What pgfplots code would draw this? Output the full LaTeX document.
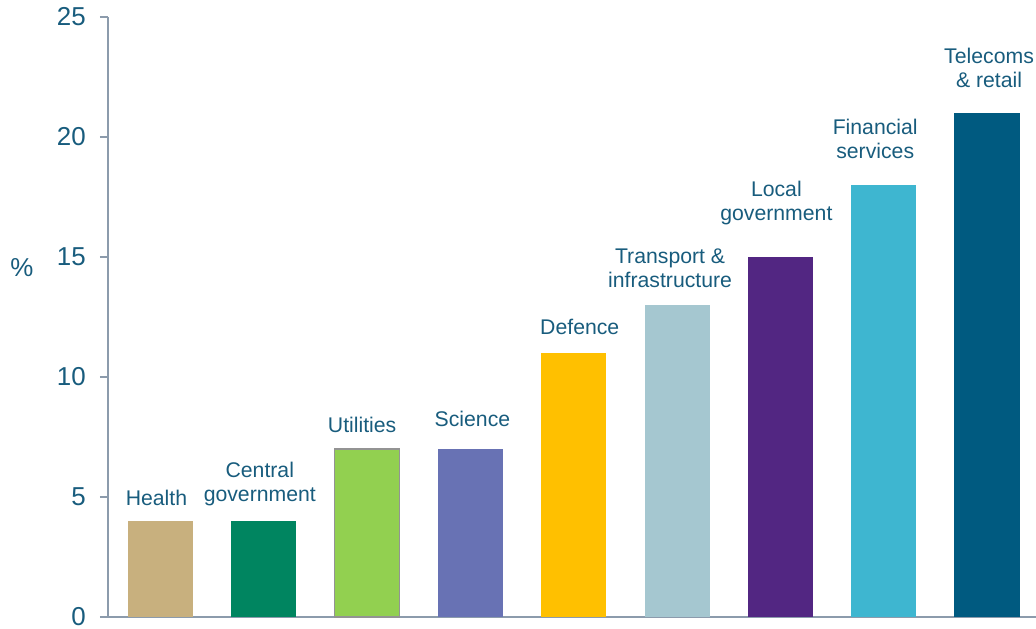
\documentclass[border=0pt]{standalone}
\usepackage{fontspec}
\setmainfont{Liberation Sans}
\usepackage{pgfplots}
\pgfplotsset{compat=1.18}
\definecolor{lab}{RGB}{24,92,125}
\definecolor{axc}{RGB}{140,155,172}
\definecolor{c0}{RGB}{200,176,126}
\definecolor{c1}{RGB}{0,133,96}
\definecolor{c2}{RGB}{146,208,80}
\definecolor{c3}{RGB}{104,114,180}
\definecolor{c4}{RGB}{255,192,0}
\definecolor{c5}{RGB}{165,199,208}
\definecolor{c6}{RGB}{82,38,130}
\definecolor{c7}{RGB}{62,182,208}
\definecolor{c8}{RGB}{0,90,128}
\begin{document}
\begin{tikzpicture}[x=1bp,y=1bp]
\path[use as bounding box] (-108,-12) rectangle (928,617);
\begin{axis}[at={(0,0)}, anchor=south west, scale only axis,
  width=928bp, height=600bp,
  xmin=-0.508, xmax=8.474, ymin=0, ymax=25,
  ybar, bar width=0.63, bar shift=0pt,
  axis x line*=bottom, axis y line*=left,
  axis line style={draw=axc, line width=1.5bp},
  xtick=\empty,
  ytick={0,5,10,15,20,25},
  tick style={draw=axc, line width=1.5bp},
  major tick length=8bp, tick align=outside,
  /pgf/number format/assume math mode=true,
  yticklabel style={font=\fontsize{26}{26}\selectfont, text=lab, xshift=-13bp, inner sep=1bp},
  ylabel={\%},
  every axis y label/.style={at={(rel axis cs:-0.0927,0.583)}, anchor=center,
    font=\fontsize{26}{26}\selectfont, text=lab},
  clip=false,
  nodes near coords style={font=\fontsize{21.3}{24.5}\selectfont, text=lab, align=center,
    anchor=south, inner sep=0pt, text depth=0pt, yshift=15bp},
]
\addplot[fill=c0, draw=none, nodes near coords={Health}, every node near coord/.append style={xshift=-4bp}] coordinates {(0,4)};
\addplot[fill=c1, draw=none, nodes near coords={Central\\government}, every node near coord/.append style={yshift=4bp, xshift=-4bp}] coordinates {(1,4)};
\addplot[fill=c2, draw=gray!85, line width=1.2bp, nodes near coords={Utilities}, every node near coord/.append style={yshift=1bp, xshift=-5bp}] coordinates {(2,7)};
\addplot[fill=c3, draw=none, nodes near coords={Science}, every node near coord/.append style={yshift=7bp, xshift=2bp}] coordinates {(3,7)};
\addplot[fill=c4, draw=none, nodes near coords={Defence}, every node near coord/.append style={yshift=3bp, xshift=6bp}] coordinates {(4,11)};
\addplot[fill=c5, draw=none, nodes near coords={Transport \&\\infrastructure}, every node near coord/.append style={yshift=2bp, xshift=-7bp}] coordinates {(5,13)};
\addplot[fill=c6, draw=none, nodes near coords={Local\\government}, every node near coord/.append style={yshift=21bp, xshift=-4bp}] coordinates {(6,15)};
\addplot[fill=c7, draw=none, nodes near coords={Financial\\services}, every node near coord/.append style={yshift=11bp, xshift=-8.5bp}] coordinates {(7,18)};
\addplot[fill=c8, draw=none, nodes near coords={Telecoms\\\& retail}, every node near coord/.append style={yshift=10bp, xshift=2bp}] coordinates {(8,21)};
\end{axis}
\end{tikzpicture}
\end{document}
